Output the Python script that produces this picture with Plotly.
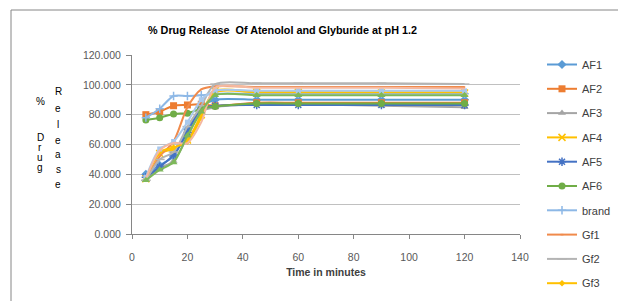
import plotly.graph_objects as go

times = [5, 10, 15, 20, 25, 30, 45, 60, 90, 120]

AF1 = [40.0, 46.0, 52.0, 70.0, 85.0, 90.0, 90.0, 90.0, 90.0, 90.0]
AF2 = [80.0, 82.0, 86.0, 86.5, 87.0, 86.0, 88.0, 88.0, 88.0, 88.0]
AF3 = [36.0, 44.0, 49.0, 65.0, 82.0, 85.0, 87.0, 87.0, 86.0, 85.0]
AF4 = [37.0, 54.0, 57.0, 63.0, 80.0, 96.0, 95.0, 95.0, 94.5, 94.5]
AF5 = [38.0, 45.0, 53.0, 68.0, 84.0, 86.0, 86.5, 86.5, 86.5, 86.5]
AF6 = [76.5, 78.0, 80.5, 81.0, 84.0, 85.5, 87.5, 87.5, 87.5, 87.5]
brand = [78.0, 84.0, 92.5, 92.5, 93.0, 94.0, 94.0, 94.0, 94.0, 94.0]
Gf1 = [36.0, 52.0, 62.0, 85.0, 97.0, 99.0, 98.5, 98.5, 98.5, 98.5]
Gf2 = [36.0, 50.0, 55.0, 72.0, 86.0, 100.5, 101.0, 101.0, 101.0, 100.5]
Gf3 = [37.0, 55.0, 58.0, 62.0, 78.0, 95.0, 95.0, 95.0, 95.0, 95.0]
Gf4 = [38.0, 57.0, 62.0, 75.0, 90.0, 96.0, 96.0, 96.0, 96.0, 96.0]
Gf5 = [37.0, 56.0, 61.0, 61.0, 75.0, 98.0, 98.0, 98.0, 98.0, 97.5]
Gf6 = [36.0, 43.0, 48.0, 66.0, 82.0, 93.0, 93.0, 93.0, 93.0, 93.0]

series = [
    ("AF1", AF1, "#5B9BD5", "diamond", 7, True),
    ("AF2", AF2, "#ED7D31", "square", 7, True),
    ("AF3", AF3, "#A5A5A5", "triangle-up", 7, True),
    ("AF4", AF4, "#FFC000", "x-thin", 7, True),
    ("AF5", AF5, "#4472C4", "asterisk", 7, True),
    ("AF6", AF6, "#70AD47", "circle", 7, True),
    ("brand", brand, "#8DB8E6", "cross-thin", 6, True),
    ("Gf1", Gf1, "#F08A4B", "line-ew", 1, True),
    ("Gf2", Gf2, "#B4B4B4", "line-ew", 7, True),
    ("Gf3", Gf3, "#FFC000", "diamond", 5, True),
    ("Gf4", Gf4, "#A9C8EC", "square", 5, False),
    ("Gf5", Gf5, "#F4B8A0", "circle", 1, False),
    ("Gf6", Gf6, "#7DB85A", "triangle-up", 7, False),
]

# the page places the figure 8px in from the window's top-left corner
OFF = 8
W, H = 626 - OFF, 301 - OFF
L, T, R, B = 132 - OFF, 55 - OFF, 106, 67
PW, PH = W - L - R, H - T - B


def px_x(x):  # window x pixel -> paper coordinate
    return (x - OFF - L) / PW


def px_y(y):  # window y pixel -> paper coordinate
    return (H - B - (y - OFF)) / PH


fig = go.Figure()
for name, vals, col, sym, sz, leg in series:
    thin = sym in ("x-thin", "cross-thin", "asterisk", "line-ew")
    fig.add_trace(go.Scatter(
        x=times, y=vals, name=name, mode="lines+markers",
        line=dict(color=col, width=2, shape="spline", smoothing=0.8),
        marker=dict(symbol=sym, size=sz, color=col,
                    line=dict(color=col, width=1.5 if thin else 0)),
        showlegend=leg, legendgroup=name,
    ))

fig.update_layout(
    width=W, height=H,
    margin=dict(l=L, r=R, t=T, b=B, autoexpand=False),
    paper_bgcolor="white", plot_bgcolor="white",
    font=dict(family="Liberation Sans", size=11, color="#404040"),
    showlegend=True,
    legend=dict(xref="container", yref="container",
                x=(542 - OFF) / W, y=1 - (50 - OFF) / H,
                xanchor="left", yanchor="top", maxheight=1,
                font=dict(size=11, color="#404040"),
                tracegroupgap=5.3, itemwidth=30, bgcolor="rgba(0,0,0,0)"),
    xaxis=dict(range=[0, 140], dtick=20, tick0=0, showgrid=False, zeroline=False,
               showline=True, linecolor="#868686", linewidth=1, automargin=False,
               ticks="outside", ticklen=4, tickcolor="#868686",
               tickfont=dict(size=10.5, color="#595959"), ticklabelstandoff=9,
               title=dict(text="<b>Time in minutes</b>", font=dict(size=10.5, color="#404040"),
                          standoff=7)),
    yaxis=dict(range=[0, 120], dtick=20, tick0=0, tickformat=".3f",
               showgrid=True, gridcolor="#C0C0C0", gridwidth=1, zeroline=False,
               showline=True, linecolor="#868686", linewidth=1, automargin=False,
               ticks="outside", ticklen=5, tickcolor="#868686",
               tickfont=dict(size=10.5, color="#595959"), ticklabelstandoff=3),
)

# outer chart border (left and top edges visible)
fig.add_shape(type="line", xref="paper", yref="paper",
              x0=px_x(11), x1=px_x(11), y0=px_y(10), y1=-1,
              line=dict(color="#868686", width=1))
fig.add_shape(type="line", xref="paper", yref="paper",
              x0=px_x(11), x1=2, y0=px_y(10), y1=px_y(10),
              line=dict(color="#868686", width=1))

# title
fig.add_annotation(text="<b>% Drug Release  Of Atenolol and Glyburide at pH 1.2</b>",
                   xref="paper", yref="paper", x=px_x(282), y=px_y(30),
                   xanchor="center", yanchor="middle", showarrow=False,
                   font=dict(size=10.8, color="#000000"))

# vertical stacked y-axis label
col1 = [("%", 101), ("D", 137), ("r", 147), ("u", 157), ("g", 167)]
col2 = [("R", 91), ("e", 108), ("l", 124), ("e", 140), ("a", 154), ("s", 169), ("e", 184)]
for chars, xpx in ((col1, 40), (col2, 58)):
    for ch, ypx in chars:
        fig.add_annotation(text=ch, xref="paper", yref="paper",
                           x=px_x(xpx), y=px_y(ypx),
                           xanchor="center", yanchor="middle", showarrow=False,
                           font=dict(size=10, color="#000000"))

fig.write_html("out.html")
